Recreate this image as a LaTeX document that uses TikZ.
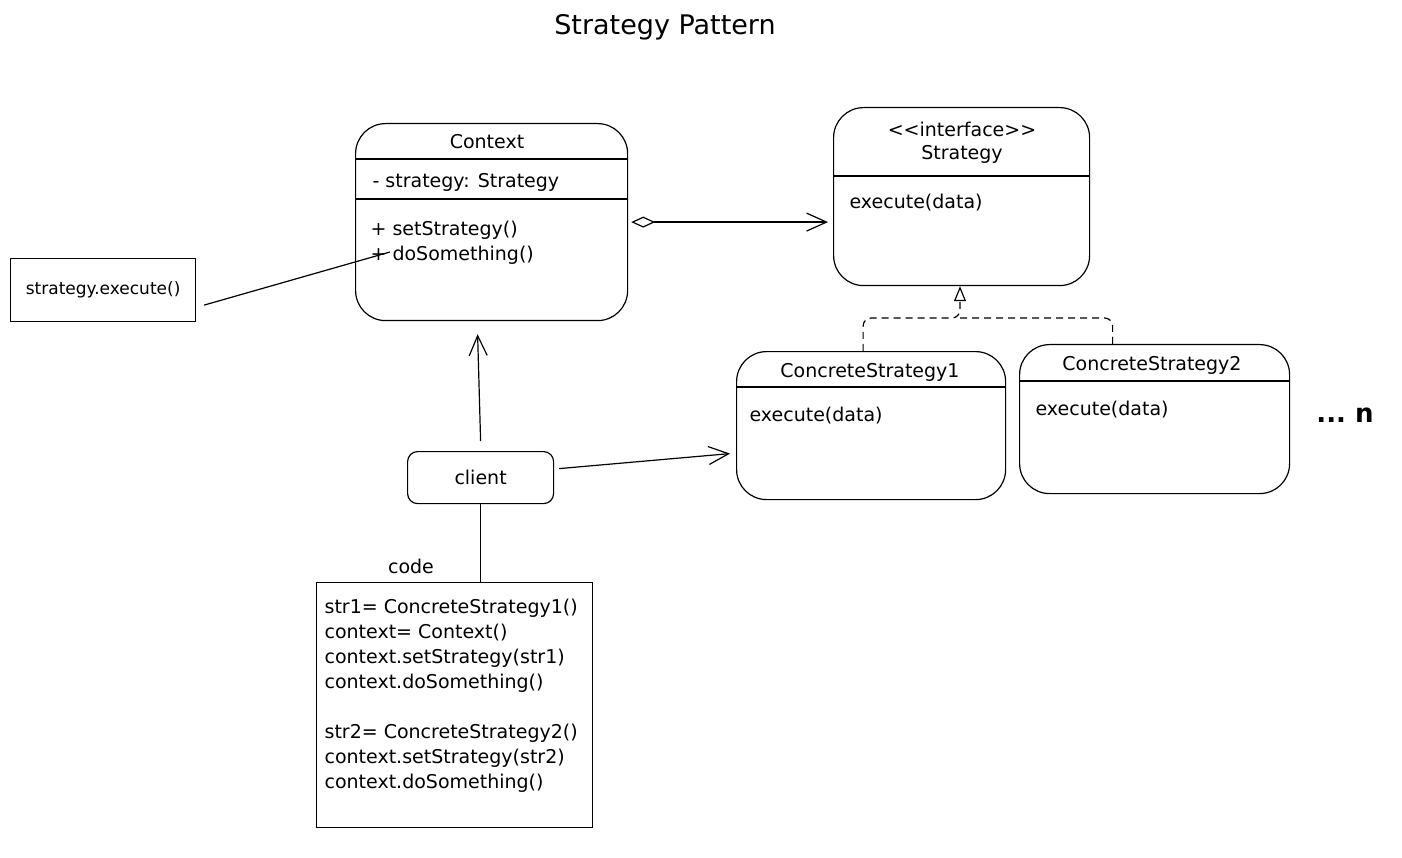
\documentclass[tikz,border=0pt]{standalone}
\usepackage{fontspec}
\setmainfont{DejaVu Sans}
\usetikzlibrary{arrows.meta,positioning}
\begin{document}
\begin{tikzpicture}[x=1pt,y=-1pt,line width=1.2pt,
    cls/.style={draw,rounded corners=30pt,anchor=north west,inner sep=0pt},
    txt/.style={inner sep=0pt,font=\fontsize{19}{23}\selectfont},
    ltxt/.style={txt,anchor=west},
    open/.style={-{Straight Barb[length=20pt,width=18pt]}},
    dashline/.style={dashed,dash pattern=on 7pt off 5pt,rounded corners=8pt}]
  \useasboundingbox (0,0) rectangle (1402,858);
  \node[txt,font=\fontsize{27}{32}\selectfont] (title) at (665,27) {Strategy Pattern};

  \node[cls,minimum width=272pt,minimum height=197pt] (ctx) at (355,123) {};
  \node[txt] (ctxname) at (487,142) {Context};
  \draw (ctx.west |- 0,159) -- (ctx.east |- 0,159);
  \node[ltxt] (ctxattr) at (372,182) {- strategy: Strategy};
  \draw (ctx.west |- 0,199) -- (ctx.east |- 0,199);
  \node[ltxt] (setst) at (370,230) {+ setStrategy()};
  \node[ltxt] (dosth) at (370,255) {+ doSomething()};

  \node[cls,minimum width=256pt,minimum height=178pt] (strat) at (833,107) {};
  \node[txt] (stereo) at (962,129) {<\kern0pt<interface>\kern0pt>};
  \node[txt] (stratname) at (962,154) {Strategy};
  \draw (strat.west |- 0,176) -- (strat.east |- 0,176);
  \node[ltxt] (stratop) at (849,203) {execute(data)};

  \node[cls,minimum width=269pt,minimum height=148pt] (cs1) at (736,351) {};
  \node[txt] (cs1name) at (870,372) {ConcreteStrategy1};
  \draw (cs1.west |- 0,387) -- (cs1.east |- 0,387);
  \node[ltxt] (cs1op) at (749,416) {execute(data)};

  \node[cls,minimum width=270pt,minimum height=149pt] (cs2) at (1019,344) {};
  \node[txt] (cs2name) at (1152,365) {ConcreteStrategy2};
  \draw (cs2.west |- 0,381) -- (cs2.east |- 0,381);
  \node[ltxt] (cs2op) at (1035,410) {execute(data)};
  \node[txt,font=\fontsize{26}{30}\selectfont\bfseries] (more) at (1345,415) {...\ n};

  \node[draw,minimum width=185pt,minimum height=63pt,anchor=north west,font=\fontsize{17}{20}\selectfont] (note) at (10,258) {strategy.execute()};
  \draw ([shift={(8,15)}]note.east) -- ([shift={(20,-3)}]dosth.west);

  \node[txt,draw,rounded corners=10pt,minimum width=146pt,minimum height=52pt,anchor=north west] (client) at (407,451) {client};
  \draw[open] ([shift={(0,-10)}]client.north) -- ([shift={(-14,13)}]ctx.south);
  \draw[open] ([shift={(5,-9)}]client.east) -- ([shift={(-6,28)}]cs1.west);
  \draw[{Diamond[open,length=24pt,width=11pt]}-{Straight Barb[length=20pt,width=18pt]},shorten <=3pt,shorten >=5pt] (ctx.east) -- (strat.west |- ctx.east);

  \coordinate (join) at (960,318);
  \draw[dashline,-{Triangle[open,length=15pt,width=12pt]}] ([shift={(-8,0)}]cs1.north) |- (join) -- (join |- strat.south);
  \draw[dashline] ([shift={(-42,0)}]cs2.north) |- (join);

  \node[txt] (codelbl) at (411,566) {code};
  \node[draw,minimum width=276pt,minimum height=245pt,anchor=north west] (code) at (316,582) {};
  \node[txt,anchor=north west,align=left,font=\fontsize{19}{25}\selectfont] (codetxt) at (324,598) {str1= ConcreteStrategy1()\\context= Context()\\context.setStrategy(str1)\\context.doSomething()\\[25pt]str2= ConcreteStrategy2()\\context.setStrategy(str2)\\context.doSomething()};
  \draw (client.south) -- (code.north -| client.south);
\end{tikzpicture}
\end{document}
